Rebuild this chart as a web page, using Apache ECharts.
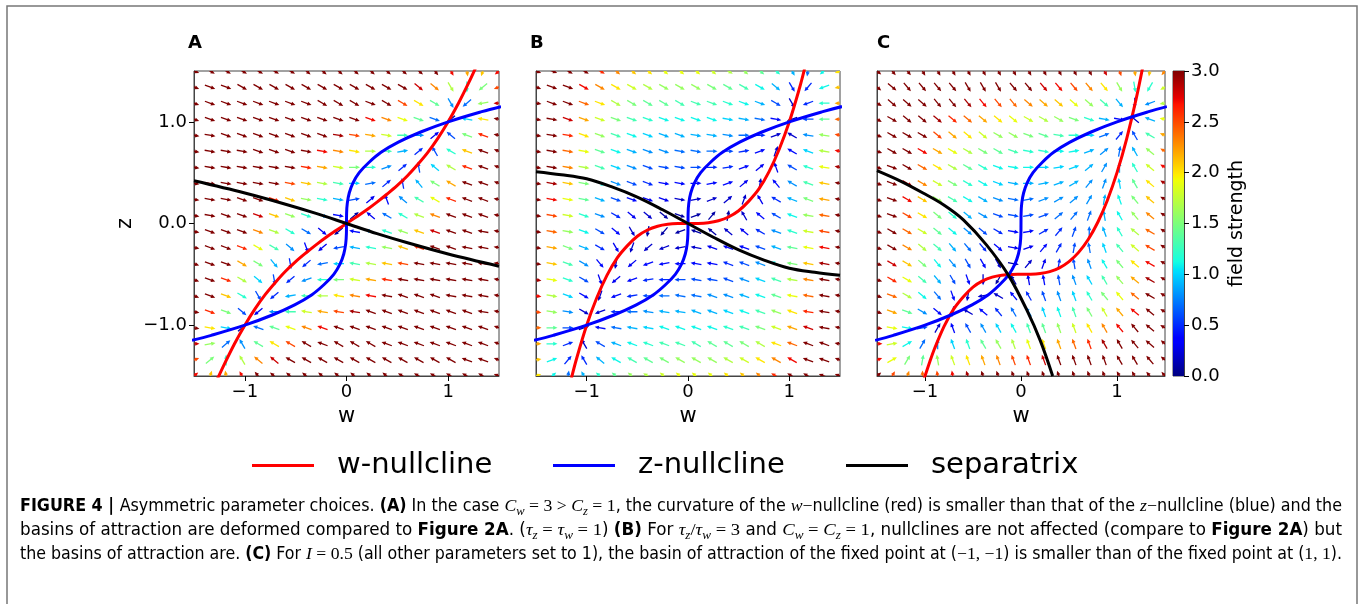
<!DOCTYPE html>
<html>
<head>
<meta charset="utf-8">
<script src="https://cdn.jsdelivr.net/npm/echarts@6/dist/echarts.min.js"></script>
<style>
html, body { margin: 0; padding: 0; background: #fff; }
#chart { width: 1362px; height: 604px; }
</style>
</head>
<body>
<div id="chart"></div>
<script>
// quiver sample points, used for both w (columns) and z (rows)
const gridVals = [-1.5, -1.342, -1.184, -1.026, -0.868, -0.711, -0.553, -0.395, -0.237, -0.079,
  0.079, 0.237, 0.395, 0.553, 0.711, 0.868, 1.026, 1.184, 1.342, 1.5]

// arrow direction (degrees) and field strength, rows from z = 1.5 (top) down to z = -1.5
const dirA = [
  [340,330,330,330,330,330,330,320,320,320,320,320,320,320,320,310,300,280,250,220],
  [340,340,340,330,330,330,330,330,330,330,330,330,330,330,320,320,300,270,220,200],
  [340,340,340,340,340,340,340,340,330,330,330,340,330,330,330,330,300,220,190,180],
  [340,340,340,340,340,340,340,340,340,340,340,340,340,340,340,340,220,170,170,170],
  [350,350,340,340,340,340,340,340,340,350,350,350,350,0,0,40,140,160,160,170],
  [350,350,350,350,340,340,340,350,350,350,350,0,0,10,40,120,150,160,160,160],
  [350,350,350,350,350,350,350,350,350,350,0,0,20,40,100,140,150,160,160,160],
  [350,350,350,350,350,350,350,350,350,350,0,10,40,100,130,150,150,160,160,160],
  [350,350,350,340,340,340,340,350,350,350,10,40,110,140,150,150,160,160,160,170],
  [350,350,340,340,340,340,340,340,340,350,40,140,150,150,160,160,160,160,160,170],
  [350,340,340,340,340,340,330,330,320,220,170,160,160,160,160,160,160,160,170,170],
  [350,340,340,340,330,330,320,290,220,190,170,170,170,160,160,160,160,170,170,170],
  [340,340,340,330,330,310,280,220,190,180,170,170,170,170,170,170,170,170,170,170],
  [340,340,340,330,320,280,220,200,180,180,170,170,170,170,170,170,170,170,170,170],
  [340,340,340,330,300,220,190,180,180,170,170,170,170,160,160,160,170,170,170,170],
  [350,340,340,320,220,180,180,170,170,170,170,160,160,160,160,160,160,160,170,170],
  [350,350,350,40,160,160,160,160,160,160,160,160,160,160,160,160,160,160,160,160],
  [0,10,40,120,150,150,150,150,160,150,150,150,160,160,160,160,160,160,160,160],
  [20,40,90,120,140,140,150,150,150,150,150,150,150,150,150,150,150,160,160,160],
  [40,70,100,120,130,140,140,140,140,140,140,140,140,150,150,150,150,150,150,160]
]
const strA = [
  [3,3,3,3,3,3,3,3,3,3,3,3,3,3,3,3,2.7,2.2,2.1,2.7],
  [3,3,3,3,3,3,3,3,3,3,3,3,3,3,2.8,2.3,1.7,1.2,1.5,2.5],
  [3,3,3,3,3,3,3,3,3,3,3,3,3,2.5,2.0,1.4,0.8,0.7,1.6,2.8],
  [3,3,3,3,3,3,3,3,3,3,3,2.7,2.3,1.9,1.4,0.7,0.1,1.0,2.0,3],
  [3,3,3,3,3,3,3,3,3,2.9,2.5,2.2,1.8,1.3,0.8,0.3,0.6,1.5,2.6,3],
  [3,3,3,3,3,3,3,3,2.7,2.3,2.0,1.7,1.3,0.9,0.5,0.6,1.2,2.1,3,3],
  [3,3,3,3,3,3,3,2.6,2.2,1.8,1.5,1.2,0.8,0.5,0.6,1.0,1.7,2.6,3,3],
  [3,3,3,3,3,3,2.5,2.1,1.7,1.3,1.0,0.7,0.5,0.5,0.9,1.5,2.2,3,3,3],
  [3,3,3,3,3,2.6,2.1,1.6,1.2,0.9,0.6,0.3,0.4,0.8,1.3,1.9,2.6,3,3,3],
  [3,3,3,3,2.8,2.1,1.6,1.2,0.8,0.4,0.1,0.3,0.7,1.2,1.7,2.3,3,3,3,3],
  [3,3,3,3,2.3,1.7,1.2,0.7,0.3,0.1,0.4,0.8,1.2,1.6,2.1,2.8,3,3,3,3],
  [3,3,3,2.6,1.9,1.3,0.8,0.4,0.3,0.6,0.9,1.2,1.6,2.1,2.6,3,3,3,3,3],
  [3,3,3,2.2,1.5,0.9,0.5,0.5,0.7,1.0,1.3,1.7,2.1,2.5,3,3,3,3,3,3],
  [3,3,2.6,1.7,1.0,0.6,0.5,0.8,1.2,1.5,1.8,2.2,2.6,3,3,3,3,3,3,3],
  [3,3,2.1,1.2,0.6,0.5,0.9,1.3,1.7,2.0,2.3,2.7,3,3,3,3,3,3,3,3],
  [3,2.6,1.5,0.6,0.3,0.8,1.3,1.8,2.2,2.5,2.9,3,3,3,3,3,3,3,3,3],
  [3,2.0,1.0,0.1,0.7,1.4,1.9,2.3,2.7,3,3,3,3,3,3,3,3,3,3,3],
  [2.8,1.6,0.7,0.8,1.4,2.0,2.5,3,3,3,3,3,3,3,3,3,3,3,3,3],
  [2.5,1.5,1.2,1.7,2.3,2.8,3,3,3,3,3,3,3,3,3,3,3,3,3,3],
  [2.7,2.1,2.2,2.7,3,3,3,3,3,3,3,3,3,3,3,3,3,3,3,3]
]

const dirB = [
  [340,340,330,330,330,320,320,320,320,320,320,320,330,320,320,320,300,260,220,200],
  [340,340,340,330,330,330,330,330,330,330,330,330,330,330,330,320,300,230,200,190],
  [350,340,340,340,340,330,330,330,330,330,340,340,340,340,340,330,300,200,180,180],
  [350,350,340,340,340,340,340,340,340,340,340,340,350,350,350,350,200,180,180,180],
  [350,350,350,340,340,340,340,340,340,340,350,350,350,0,0,20,150,170,170,170],
  [350,350,350,350,340,340,340,340,340,350,350,0,0,10,20,70,150,160,170,170],
  [350,350,350,350,340,340,340,340,350,350,0,0,10,20,40,110,150,160,170,170],
  [350,350,350,350,340,340,340,340,350,350,0,10,20,40,80,130,150,160,170,170],
  [350,350,350,350,340,340,340,340,340,350,10,20,40,70,120,150,160,160,170,170],
  [350,350,350,340,340,330,320,320,320,340,20,50,80,120,140,150,160,170,170,170],
  [350,350,350,340,330,320,300,260,230,200,160,140,140,140,150,160,160,170,170,170],
  [350,350,340,340,330,300,250,220,200,190,170,160,160,160,160,160,170,170,170,170],
  [350,350,340,330,310,260,220,200,190,180,170,170,160,160,160,160,170,170,170,170],
  [350,350,340,330,290,220,200,190,180,180,170,170,160,160,160,160,170,170,170,170],
  [350,350,340,330,250,200,190,180,180,170,170,160,160,160,160,160,170,170,170,170],
  [350,350,350,330,200,180,180,170,170,170,160,160,160,160,160,160,160,170,170,170],
  [0,0,0,20,170,170,170,170,160,160,160,160,160,160,160,160,160,160,170,170],
  [0,0,20,120,150,160,160,160,160,160,150,150,150,150,150,160,160,160,160,170],
  [10,20,50,120,140,150,150,150,150,150,150,150,150,150,150,150,150,160,160,160],
  [20,40,80,120,140,140,140,150,140,140,140,140,140,140,140,150,150,150,160,160]
]
const strB = [
  [3,3,3,3,2.6,2.3,2.1,2.0,1.9,1.9,1.9,1.8,1.7,1.6,1.4,1.2,0.9,0.7,1.1,2.0],
  [3,3,3,2.7,2.3,2.0,1.8,1.7,1.6,1.6,1.6,1.5,1.4,1.3,1.1,0.9,0.5,0.5,1.1,2.1],
  [3,3,3,2.4,2.0,1.7,1.5,1.4,1.4,1.3,1.3,1.3,1.2,1.1,0.9,0.6,0.2,0.5,1.2,2.2],
  [3,3,2.8,2.2,1.8,1.5,1.3,1.2,1.1,1.1,1.1,1.1,1.0,0.9,0.7,0.4,0.1,0.6,1.4,2.4],
  [3,3,2.6,2.0,1.6,1.3,1.1,1.0,0.9,0.9,0.9,0.9,0.8,0.7,0.5,0.2,0.2,0.8,1.6,2.5],
  [3,3,2.4,1.9,1.4,1.1,0.9,0.8,0.8,0.7,0.7,0.7,0.6,0.5,0.4,0.2,0.4,1.0,1.7,2.7],
  [3,3,2.3,1.7,1.3,1.0,0.8,0.6,0.6,0.6,0.6,0.5,0.5,0.4,0.3,0.3,0.6,1.2,1.9,2.9],
  [3,2.9,2.1,1.5,1.1,0.8,0.6,0.5,0.4,0.4,0.4,0.4,0.4,0.3,0.2,0.4,0.8,1.3,2.1,3],
  [3,2.7,1.9,1.4,0.9,0.6,0.4,0.3,0.3,0.2,0.2,0.2,0.2,0.2,0.3,0.5,0.9,1.5,2.2,3],
  [3,2.5,1.8,1.2,0.8,0.5,0.3,0.2,0.1,0.1,0.1,0.1,0.1,0.2,0.4,0.6,1.1,1.6,2.4,3],
  [3,2.4,1.6,1.1,0.6,0.4,0.2,0.1,0.1,0.1,0.1,0.1,0.2,0.3,0.5,0.8,1.2,1.8,2.5,3],
  [3,2.2,1.5,0.9,0.5,0.3,0.2,0.2,0.2,0.2,0.2,0.3,0.3,0.4,0.6,0.9,1.4,1.9,2.7,3],
  [3,2.1,1.3,0.8,0.4,0.2,0.3,0.4,0.4,0.4,0.4,0.4,0.5,0.6,0.8,1.1,1.5,2.1,2.9,3],
  [2.9,1.9,1.2,0.6,0.3,0.3,0.4,0.5,0.5,0.6,0.6,0.6,0.6,0.8,1.0,1.3,1.7,2.3,3,3],
  [2.7,1.7,1.0,0.4,0.2,0.4,0.5,0.6,0.7,0.7,0.7,0.8,0.8,0.9,1.1,1.4,1.9,2.4,3,3],
  [2.5,1.6,0.8,0.2,0.2,0.5,0.7,0.8,0.9,0.9,0.9,0.9,1.0,1.1,1.3,1.6,2.0,2.6,3,3],
  [2.4,1.4,0.6,0.1,0.4,0.7,0.9,1.0,1.1,1.1,1.1,1.1,1.2,1.3,1.5,1.8,2.2,2.8,3,3],
  [2.2,1.2,0.5,0.2,0.6,0.9,1.1,1.2,1.3,1.3,1.3,1.4,1.4,1.5,1.7,2.0,2.4,3,3,3],
  [2.1,1.1,0.5,0.5,0.9,1.1,1.3,1.4,1.5,1.6,1.6,1.6,1.7,1.8,2.0,2.3,2.7,3,3,3],
  [2.0,1.1,0.7,0.9,1.2,1.4,1.6,1.7,1.8,1.9,1.9,1.9,2.0,2.1,2.3,2.6,3,3,3,3]
]

const dirC = [
  [320,310,310,300,300,300,300,300,300,300,300,300,300,300,300,300,290,280,260,230],
  [320,320,310,310,310,310,300,300,300,310,310,310,310,310,310,310,300,280,240,210],
  [330,320,320,320,310,310,310,310,310,310,320,320,320,320,320,320,310,270,200,190],
  [330,330,320,320,320,320,320,320,320,320,330,330,330,340,340,350,350,140,160,170],
  [340,330,330,330,320,320,320,320,330,330,340,340,350,0,0,20,50,120,150,160],
  [340,330,330,330,330,330,330,330,330,340,350,350,0,10,20,40,80,120,140,150],
  [340,340,330,330,330,330,330,330,340,350,0,0,10,20,40,60,90,120,140,150],
  [340,340,330,330,330,330,330,330,340,350,0,10,20,30,50,70,100,120,140,150],
  [340,340,330,330,330,330,330,330,340,350,10,20,30,40,60,80,110,130,140,150],
  [340,340,330,330,320,320,320,330,340,350,10,20,40,50,70,100,120,130,140,150],
  [340,330,330,330,320,320,320,320,330,350,10,30,50,70,90,110,120,140,150,150],
  [340,330,330,320,320,310,310,310,320,350,20,50,60,80,100,110,130,140,150,150],
  [340,330,330,320,310,310,300,300,300,350,50,70,80,100,110,120,130,140,150,150],
  [340,330,330,320,310,300,290,270,240,120,100,100,100,110,120,120,130,140,150,150],
  [340,340,330,320,310,290,260,190,150,130,120,110,110,110,120,130,130,140,150,150],
  [340,340,340,330,320,260,150,140,130,120,120,110,110,110,120,120,130,140,140,150],
  [350,350,350,10,60,110,120,120,120,120,110,110,110,110,120,120,130,130,140,150],
  [0,10,30,60,90,110,110,120,120,110,110,110,110,110,110,120,120,130,140,140],
  [20,30,60,80,100,110,110,110,110,110,110,110,110,110,110,110,120,120,130,140],
  [40,60,70,90,100,100,110,110,110,110,110,110,110,110,110,110,120,120,130,130]
]
const strC = [
  [3,3,3,3,3,3,3,3,3,3,3,3,3,3,3,2.8,2.5,2.2,2.1,2.3],
  [3,3,3,3,3,3,3,3,3,3,3,2.8,2.7,2.5,2.3,2.0,1.6,1.2,1.2,1.8],
  [3,3,3,3,3,3,2.9,2.7,2.5,2.4,2.3,2.2,2.1,1.9,1.6,1.3,0.9,0.5,0.8,1.7],
  [3,3,3,3,2.9,2.6,2.4,2.2,2.0,1.9,1.8,1.7,1.6,1.5,1.2,0.9,0.4,0.2,0.9,1.9],
  [3,3,3,3,2.5,2.2,2.0,1.8,1.6,1.6,1.5,1.4,1.3,1.2,1.0,0.7,0.5,0.6,1.3,2.2],
  [3,3,3,2.7,2.2,1.9,1.7,1.5,1.4,1.3,1.2,1.2,1.1,1.1,0.9,0.8,0.7,0.9,1.6,2.4],
  [3,3,3,2.4,2.0,1.7,1.4,1.2,1.1,1.1,1.1,1.0,1.0,1.0,0.9,0.8,0.9,1.2,1.8,2.7],
  [3,3,2.8,2.3,1.8,1.5,1.2,1.1,1.0,0.9,0.9,0.9,0.9,0.9,0.8,0.8,1.0,1.4,2.0,2.9],
  [3,3,2.7,2.1,1.6,1.3,1.1,0.9,0.8,0.7,0.7,0.8,0.8,0.8,0.8,0.9,1.1,1.5,2.1,3],
  [3,3,2.5,2.0,1.5,1.2,0.9,0.8,0.6,0.6,0.6,0.6,0.7,0.7,0.7,0.9,1.1,1.6,2.3,3],
  [3,3,2.4,1.8,1.4,1.1,0.8,0.6,0.5,0.4,0.4,0.5,0.5,0.6,0.7,0.9,1.2,1.7,2.4,3],
  [3,3,2.3,1.7,1.3,0.9,0.7,0.5,0.4,0.3,0.3,0.4,0.5,0.6,0.7,1.0,1.3,1.8,2.5,3],
  [3,2.8,2.1,1.5,1.1,0.8,0.6,0.4,0.2,0.1,0.2,0.3,0.5,0.6,0.8,1.1,1.5,2.0,2.7,3],
  [3,2.6,1.9,1.3,0.9,0.6,0.4,0.2,0.1,0.1,0.3,0.4,0.6,0.8,1.0,1.3,1.6,2.2,2.9,3],
  [3,2.4,1.7,1.1,0.7,0.4,0.2,0.2,0.2,0.4,0.5,0.6,0.8,1.0,1.2,1.5,1.9,2.4,3,3],
  [3,2.2,1.4,0.8,0.4,0.1,0.2,0.4,0.5,0.7,0.8,1.0,1.1,1.3,1.5,1.8,2.2,2.7,3,3],
  [2.9,1.9,1.1,0.6,0.2,0.4,0.6,0.8,1.0,1.1,1.3,1.4,1.6,1.8,2.0,2.3,2.7,3,3,3],
  [2.7,1.8,1.1,0.7,0.8,1.0,1.2,1.4,1.6,1.7,1.9,2.0,2.2,2.4,2.6,2.9,3,3,3,3],
  [2.7,1.9,1.5,1.4,1.6,1.8,2.0,2.2,2.3,2.5,2.6,2.8,3,3,3,3,3,3,3,3],
  [3,2.5,2.3,2.4,2.5,2.7,2.9,3,3,3,3,3,3,3,3,3,3,3,3,3]
]

// nullclines and separatrices, [w, z]
const redA = [[-1.27,-1.53],[-1.2,-1.38],[-1.1,-1.18],[-1.0,-1.0],[-0.9,-0.84],[-0.8,-0.70],[-0.7,-0.58],
  [-0.6,-0.47],[-0.5,-0.375],[-0.4,-0.29],[-0.3,-0.21],[-0.2,-0.135],[-0.1,-0.067],[0,0],[0.1,0.067],
  [0.2,0.135],[0.3,0.21],[0.4,0.29],[0.5,0.375],[0.6,0.47],[0.7,0.58],[0.8,0.70],[0.9,0.84],[1.0,1.0],
  [1.1,1.18],[1.2,1.38],[1.27,1.53]]
const blueZ = [[-1.52,-1.15],[-1.33,-1.1],[-1.0,-1.0],[-0.73,-0.9],[-0.51,-0.8],[-0.34,-0.7],[-0.22,-0.6],
  [-0.125,-0.5],[-0.064,-0.4],[-0.027,-0.3],[-0.008,-0.2],[-0.001,-0.1],[0,0],[0.001,0.1],[0.008,0.2],
  [0.027,0.3],[0.064,0.4],[0.125,0.5],[0.22,0.6],[0.34,0.7],[0.51,0.8],[0.73,0.9],[1.0,1.0],[1.33,1.1],[1.52,1.15]]
const redB = [[-1.15,-1.52],[-1.1,-1.33],[-1.0,-1.0],[-0.9,-0.73],[-0.8,-0.51],[-0.7,-0.34],[-0.6,-0.22],
  [-0.5,-0.125],[-0.4,-0.064],[-0.3,-0.027],[-0.2,-0.008],[-0.1,-0.001],[0,0],[0.1,0.001],[0.2,0.008],
  [0.3,0.027],[0.4,0.064],[0.5,0.125],[0.6,0.22],[0.7,0.34],[0.8,0.51],[0.9,0.73],[1.0,1.0],[1.1,1.33],[1.15,1.52]]
const redC = [[-1.01,-1.53],[-0.95,-1.36],[-0.9,-1.23],[-0.8,-1.01],[-0.7,-0.84],[-0.6,-0.72],[-0.5,-0.625],
  [-0.4,-0.564],[-0.3,-0.527],[-0.2,-0.508],[-0.1,-0.501],[0,-0.5],[0.1,-0.499],[0.2,-0.492],[0.3,-0.473],
  [0.4,-0.436],[0.5,-0.375],[0.6,-0.284],[0.7,-0.157],[0.8,0.012],[0.9,0.229],[1.0,0.5],[1.1,0.831],
  [1.2,1.228],[1.27,1.548]]
const sepA = [[-1.5,0.42],[-1.0,0.30],[-0.6,0.19],[-0.3,0.1],[0,0],[0.3,-0.1],[0.6,-0.19],[1.0,-0.30],[1.5,-0.42]]
const sepB = [[-1.5,0.51],[-1.25,0.48],[-1.0,0.44],[-0.75,0.36],[-0.5,0.26],[-0.25,0.135],[0,0],
  [0.25,-0.135],[0.5,-0.26],[0.75,-0.36],[1.0,-0.44],[1.25,-0.48],[1.5,-0.51]]
const sepC = [[-1.5,0.52],[-1.25,0.415],[-1.02,0.30],[-0.8,0.18],[-0.6,0.036],[-0.36,-0.21],[-0.13,-0.51],
  [0.06,-0.85],[0.2,-1.15],[0.33,-1.5]]

const tickVals = [-1, 0, 1]
const panelNames = ['A', 'B', 'C']
const legendNames = ['w-nullcline', 'z-nullcline', 'separatrix']

// matplotlib jet colormap
function jet(t) {
  t = Math.max(0, Math.min(1, t))
  let r, g, b
  if (t < 0.35) r = 0
  else if (t < 0.66) r = (t - 0.35) / 0.31
  else if (t < 0.89) r = 1
  else r = 1 - 0.5 * (t - 0.89) / 0.11
  if (t < 0.125) g = 0
  else if (t < 0.375) g = (t - 0.125) / 0.25
  else if (t < 0.64) g = 1
  else if (t < 0.91) g = 1 - (t - 0.64) / 0.27
  else g = 0
  if (t < 0.11) b = 0.5 + 0.5 * t / 0.11
  else if (t < 0.34) b = 1
  else if (t < 0.65) b = 1 - (t - 0.34) / 0.31
  else b = 0
  return 'rgb(' + Math.round(r * 255) + ',' + Math.round(g * 255) + ',' + Math.round(b * 255) + ')'
}

function arrowData(dirs, strs) {
  const out = []
  for (let r = 0; r < dirs.length; r++) {
    const z = gridVals[gridVals.length - 1 - r]
    for (let i = 0; i < gridVals.length; i++) {
      out.push([gridVals[i], z, dirs[r][i], strs[r][i]])
    }
  }
  return out
}

// arrows of equal length, centred on the sample point, coloured by strength
function renderArrow(params, api) {
  const p = api.coord([api.value(0), api.value(1)])
  const a = api.value(2) * Math.PI / 180
  const ux = Math.cos(a), uy = -Math.sin(a)
  const nx = -uy, ny = ux
  const L = 11, sw = 1.3, hw = 4, hl = 4.3
  const tx = p[0] - ux * L / 2, ty = p[1] - uy * L / 2
  const hx = p[0] + ux * L / 2, hy = p[1] + uy * L / 2
  const bx = hx - ux * hl, by = hy - uy * hl
  const pts = [
    [tx + nx * sw / 2, ty + ny * sw / 2],
    [bx + nx * sw / 2, by + ny * sw / 2],
    [bx + nx * hw / 2, by + ny * hw / 2],
    [hx, hy],
    [bx - nx * hw / 2, by - ny * hw / 2],
    [bx - nx * sw / 2, by - ny * sw / 2],
    [tx - nx * sw / 2, ty - ny * sw / 2]
  ]
  return { type: 'polygon', shape: { points: pts }, style: { fill: jet(api.value(3) / 3) } }
}

const minus = v => (v < 0 ? '\u2212' + Math.abs(v) : String(v))
const AXFONT = 'DejaVu Sans'

const grids = [
  { left: 194, top: 71, width: 305, height: 305 },
  { left: 536, top: 71, width: 304, height: 305 },
  { left: 877, top: 71, width: 288, height: 305 }
]

const xAxes = [], yAxes = []
grids.forEach((g, k) => {
  xAxes.push({
    gridIndex: k, type: 'value', min: -1.5, max: 1.5,
    name: 'w', nameLocation: 'middle', nameGap: 28,
    nameTextStyle: { fontSize: 21, fontFamily: AXFONT, color: '#000' },
    axisLine: { show: true, onZero: false, lineStyle: { color: '#444', width: 1 } },
    axisTick: { show: true, length: 5, customValues: tickVals, lineStyle: { color: '#000' } },
    axisLabel: { customValues: tickVals, fontSize: 18, fontFamily: AXFONT, color: '#000', margin: 7, formatter: minus },
    splitLine: { show: false }
  })
  yAxes.push({
    gridIndex: k, type: 'value', min: -1.5, max: 1.5,
    name: k === 0 ? 'z' : '', nameLocation: 'middle', nameGap: 58, nameRotate: 90,
    nameTextStyle: { fontSize: 21, fontFamily: AXFONT, color: '#000' },
    axisLine: { show: true, onZero: false, lineStyle: { color: '#444', width: 1 } },
    axisTick: { show: k === 0, length: 5, customValues: tickVals, lineStyle: { color: '#000' } },
    axisLabel: { show: k === 0, customValues: tickVals, fontSize: 18, fontFamily: AXFONT, color: '#000', margin: 7,
      formatter: v => (v < 0 ? '\u2212' : '') + Math.abs(v).toFixed(1) },
    splitLine: { show: false }
  })
})
// colour bar
xAxes.push({ gridIndex: 3, type: 'value', min: 0, max: 1, show: false })
yAxes.push({
  gridIndex: 3, type: 'value', min: 0, max: 3, interval: 0.5, position: 'right',
  name: 'field strength', nameLocation: 'middle', nameGap: 44, nameRotate: 90,
  nameTextStyle: { fontSize: 19, fontFamily: AXFONT, color: '#000' },
  axisLine: { show: true, onZero: false, lineStyle: { color: '#444' } },
  axisTick: { show: true, length: 5, lineStyle: { color: '#000' } },
  axisLabel: { fontSize: 18, fontFamily: AXFONT, color: '#000', margin: 7, formatter: v => v.toFixed(1) },
  splitLine: { show: false }
})

const arrowSets = [[dirA, strA], [dirB, strB], [dirC, strC]]
const curveSets = [[redA, blueZ, sepA], [redB, blueZ, sepB], [redC, blueZ, sepC]]
const curveColors = ['#ff0000', '#0000ff', '#000000']

const series = []
arrowSets.forEach((s, k) => {
  series.push({
    type: 'custom', xAxisIndex: k, yAxisIndex: k, clip: true, z: 2,
    encode: { x: 0, y: 1 }, renderItem: renderArrow, data: arrowData(s[0], s[1])
  })
})
curveSets.forEach((c, k) => {
  c.forEach((pts, j) => {
    series.push({
      type: 'line', name: legendNames[j], xAxisIndex: k, yAxisIndex: k, data: pts,
      symbol: 'none', smooth: 0.35, clip: true, z: 3 + j,
      color: curveColors[j], lineStyle: { color: curveColors[j], width: 3 }
    })
  })
})
const jetStops = [0, 0.11, 0.125, 0.34, 0.35, 0.375, 0.64, 0.65, 0.66, 0.89, 0.91, 1]
series.push({
  type: 'custom', xAxisIndex: 3, yAxisIndex: 3, data: [[0, 0]], z: 2,
  renderItem: function (params, api) {
    const p0 = api.coord([0, 3]), p1 = api.coord([1, 0])
    return {
      type: 'rect',
      shape: { x: p0[0], y: p0[1], width: p1[0] - p0[0], height: p1[1] - p0[1] },
      style: { fill: new echarts.graphic.LinearGradient(0, 0, 0, 1,
        jetStops.map(t => ({ offset: 1 - t, color: jet(t) })).reverse()) }
    }
  }
})

// caption, as rich text segments
const CAP = "'Liberation Sans Narrow','DejaVu Sans Condensed','Liberation Sans',sans-serif"
const MATH = "'Liberation Serif','DejaVu Serif',serif"
const RICH = {
  n: { fontFamily: CAP, fontSize: 17, color: '#3a3a3a', lineHeight: 22 },
  b: { fontFamily: CAP, fontSize: 17, fontWeight: 'bold', color: '#222', lineHeight: 22 },
  m: { fontFamily: MATH, fontSize: 17, fontStyle: 'italic', color: '#3a3a3a', lineHeight: 22 },
  r: { fontFamily: MATH, fontSize: 17, color: '#3a3a3a', lineHeight: 22 },
  s: { fontFamily: MATH, fontSize: 12, fontStyle: 'italic', color: '#3a3a3a', lineHeight: 12, verticalAlign: 'bottom' }
}
const captionLines = [
  [['b', 'FIGURE 4 | '], ['n', 'Asymmetric parameter choices. '], ['b', '(A)'], ['n', ' In the case '],
    ['m', 'C'], ['s', 'w'], ['r', ' = 3 > '], ['m', 'C'], ['s', 'z'], ['r', ' = 1'],
    ['n', ', the curvature of the '], ['m', 'w'], ['r', '\u2212'], ['n', 'nullcline (red) is smaller than that of the '],
    ['m', 'z'], ['r', '\u2212'], ['n', 'nullcline (blue) and the']],
  [['n', 'basins of attraction are deformed compared to '], ['b', 'Figure 2A'], ['n', '. ('],
    ['m', '\u03c4'], ['s', 'z'], ['r', ' = '], ['m', '\u03c4'], ['s', 'w'], ['r', ' = 1'], ['n', ') '], ['b', '(B)'],
    ['n', ' For '], ['m', '\u03c4'], ['s', 'z'], ['r', '/'], ['m', '\u03c4'], ['s', 'w'], ['r', ' = 3'], ['n', ' and '],
    ['m', 'C'], ['s', 'w'], ['r', ' = '], ['m', 'C'], ['s', 'z'], ['r', ' = 1'],
    ['n', ', nullclines are not affected (compare to '], ['b', 'Figure 2A'], ['n', ') but']],
  [['n', 'the basins of attraction are. '], ['b', '(C)'], ['n', ' For '], ['m', 'I'], ['r', ' = 0.5'],
    ['n', ' (all other parameters set to 1), the basin of attraction of the fixed point at ('], ['r', '\u22121, \u22121'],
    ['n', ') is smaller than of the fixed point at ('], ['r', '1, 1'], ['n', ').']]
]
const captionY = [507, 531, 555]

function segWidth(segs) {
  const ctx = document.createElement('canvas').getContext('2d')
  let w = 0
  segs.forEach(([k, t]) => {
    const st = RICH[k]
    ctx.font = (st.fontStyle || 'normal') + ' ' + (st.fontWeight || 'normal') + ' ' + st.fontSize + 'px ' + st.fontFamily
    w += ctx.measureText(t).width
  })
  return w
}

const graphics = [
  { type: 'rect', shape: { x: 7, y: 6, width: 1350, height: 640 }, style: { fill: 'none', stroke: '#777', lineWidth: 1.5 } }
]
const titleX = [188, 530, 877]
panelNames.forEach((t, k) => {
  graphics.push({ type: 'text', x: titleX[k], y: 43.5,
    style: { text: t, font: 'bold 18px DejaVu Sans', fill: '#000', verticalAlign: 'middle' } })
})
captionLines.forEach((segs, k) => {
  const sx = 1322 / segWidth(segs)
  graphics.push({
    type: 'text', x: 20, y: captionY[k], scaleX: sx,
    style: { text: segs.map(([st, t]) => '{' + st + '|' + t + '}').join(''), rich: RICH, verticalAlign: 'middle', align: 'left' }
  })
})

const legendLeft = [252, 553, 846]
const legends = legendNames.map((nm, k) => ({
  data: [nm], left: legendLeft[k], top: 451, padding: 0, icon: 'rect',
  itemWidth: 62, itemHeight: 3, selectedMode: false,
  textStyle: { fontSize: 29, fontFamily: AXFONT, color: '#000', padding: [0, 0, 0, 18] }
}))

const chart = echarts.init(document.getElementById('chart'), null, { renderer: 'canvas' })
chart.setOption({
  animation: false,
  backgroundColor: '#fff',
  textStyle: { fontFamily: AXFONT },
  grid: grids.map(g => Object.assign({ show: true, borderColor: '#444', borderWidth: 1, backgroundColor: 'transparent' }, g))
    .concat([{ left: 1173, top: 71, width: 11, height: 305, show: true, borderColor: '#444', borderWidth: 1 }]),
  xAxis: xAxes,
  yAxis: yAxes,
  legend: legends,
  series: series,
  graphic: graphics
})
</script>
</body>
</html>
